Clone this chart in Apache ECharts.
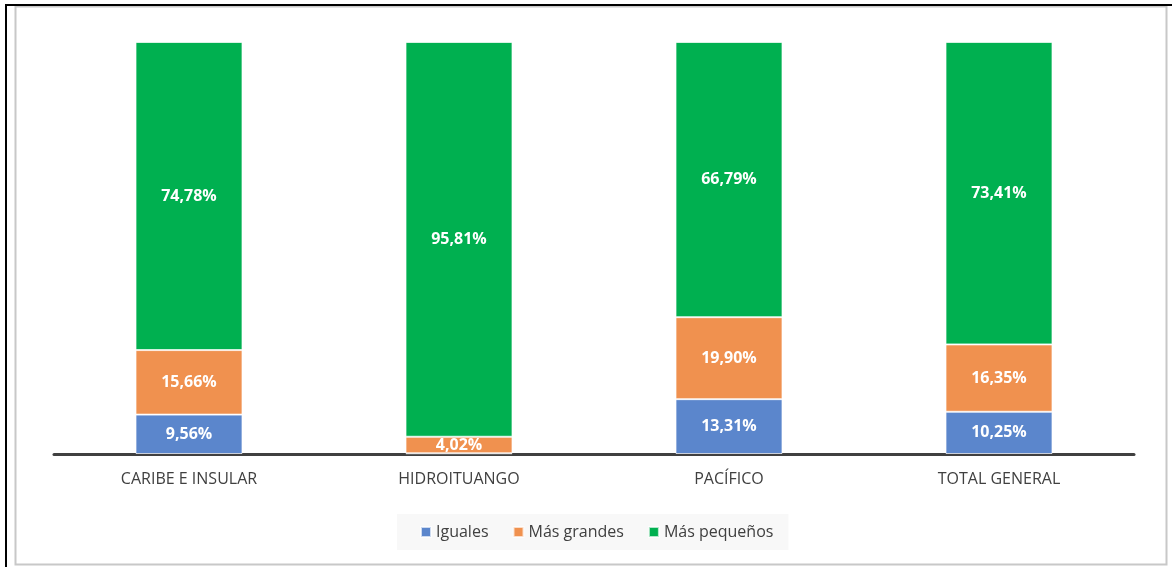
<!DOCTYPE html>
<html><head><meta charset="utf-8">
<script src="https://cdn.jsdelivr.net/npm/echarts@6/dist/echarts.min.js"></script>
<style>html,body{margin:0;padding:0;background:#fff}#c{width:1174px;height:567px}</style>
</head><body><div id="c"></div>
<script>
const categories = ['CARIBE E INSULAR', 'HIDROITUANGO', 'PACÍFICO', 'TOTAL GENERAL'];
const iguales = [9.56, 0.17, 13.31, 10.25];
const masGrandes = [15.66, 4.02, 19.90, 16.35];
const masPequenos = [74.78, 95.81, 66.79, 73.41];
const seriesNames = ['Iguales', 'Más grandes', 'Más pequeños'];
const colors = ['#5b86cc', '#f0914f', '#00b050'];

const chart = echarts.init(document.getElementById('c'), null, {renderer: 'canvas'});
const font = '"Open Sans", "Liberation Sans", sans-serif';
function fmt(v) { return v.toFixed(2).replace('.', ',') + '%'; }
function mk(name, data, color) {
  return {
    name: name, type: 'bar', stack: 'a', data: data, barWidth: 107,
    itemStyle: {color: color, borderColor: 'rgba(255,255,255,0.7)', borderWidth: 1},
    label: {show: true, position: 'inside', color: '#fff', fontWeight: 'bold', fontSize: 16, fontFamily: font,
      formatter: p => p.value < 1 ? '' : fmt(p.value)}
  };
}
chart.setOption({
  animation: false,
  color: colors,
  graphic: [
    {type: 'rect', shape: {x: 15.5, y: 6.5, width: 1151, height: 558}, style: {fill: 'none', stroke: '#c8c8c8', lineWidth: 2}},
    {type: 'line', shape: {x1: 5, y1: 5, x2: 1172, y2: 5}, style: {stroke: '#000', lineWidth: 2}},
    {type: 'line', shape: {x1: 6, y1: 4, x2: 6, y2: 567}, style: {stroke: '#000', lineWidth: 2}}
  ],
  legend: {
    bottom: 17, left: 397, itemWidth: 10, itemHeight: 10, itemGap: 24, icon: 'rect',
    backgroundColor: '#f8f8f8', padding: [10, 15, 10, 23],
    textStyle: {color: '#404040', fontSize: 16, fontFamily: font},
    data: seriesNames
  },
  grid: {left: 54, right: 40, top: 42, bottom: 113},
  xAxis: {
    type: 'category', data: categories,
    axisLine: {lineStyle: {color: '#404040', width: 3}},
    axisTick: {show: false},
    axisLabel: {color: '#404040', fontSize: 16, fontFamily: font, margin: 17}
  },
  yAxis: {type: 'value', min: 0, max: 100, show: false, splitLine: {show: false}},
  series: [
    mk(seriesNames[0], iguales, colors[0]),
    mk(seriesNames[1], masGrandes, colors[1]),
    mk(seriesNames[2], masPequenos, colors[2])
  ]
});
</script></body></html>
